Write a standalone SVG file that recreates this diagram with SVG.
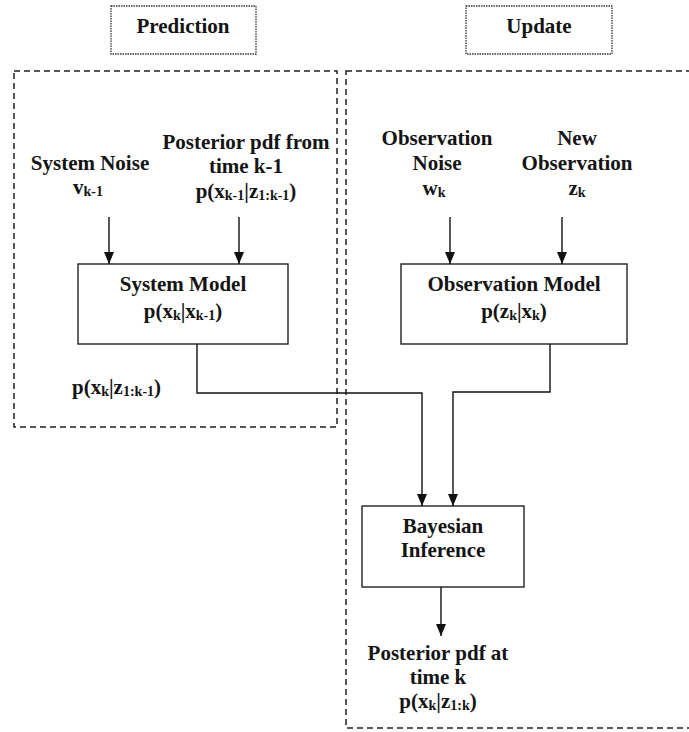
<svg xmlns="http://www.w3.org/2000/svg" width="689" height="732" viewBox="0 0 689 732">
  <style>
    .t { font-family: "Liberation Serif", "Times New Roman", serif; font-weight: bold; font-size: 21px; fill: #141414; text-anchor: middle; }
    .s { font-size: 14px; }
    .box { fill: #ffffff; stroke: #222222; stroke-width: 1.4; }
    .tag { fill: #ffffff; stroke: #333333; stroke-width: 1.3; stroke-dasharray: 1.5 1; }
    .region { fill: none; stroke: #222222; stroke-width: 1.5; stroke-dasharray: 6 4; }
    .wire { fill: none; stroke: #111111; stroke-width: 1.4; marker-end: url(#head); }
  </style>
  <defs>
    <marker id="head" markerUnits="userSpaceOnUse" markerWidth="10" markerHeight="12" refX="5" refY="12" orient="0" viewBox="0 0 10 12">
      <path d="M0,0 L10,0 L5,12 z" fill="#111111"/>
    </marker>
  </defs>
  <rect width="689" height="732" fill="#ffffff"/>

  <!-- section regions -->
  <g id="prediction-region">
    <rect class="region" x="14" y="71" width="323" height="356"/>
  </g>
  <g id="update-region">
    <rect class="region" x="346" y="71" width="380" height="657"/>
  </g>

  <!-- section titles -->
  <g id="prediction-title">
    <rect class="tag" x="111" y="6" width="145" height="48"/>
    <text class="t" x="183" y="33">Prediction</text>
  </g>
  <g id="update-title">
    <rect class="tag" x="466" y="6" width="146" height="48"/>
    <text class="t" x="539" y="33">Update</text>
  </g>

  <!-- inputs -->
  <g id="system-noise">
    <text class="t" x="90" y="170">System Noise</text>
    <text class="t" x="88" y="194">v<tspan class="s" dy="2">k-1</tspan></text>
  </g>
  <g id="prior-posterior">
    <text class="t" x="246" y="149">Posterior pdf from</text>
    <text class="t" x="246" y="173">time k-1</text>
    <text class="t" x="246" y="198">p(x<tspan class="s" dy="2">k-1</tspan><tspan dy="-2">|z</tspan><tspan class="s" dy="2">1:k-1</tspan><tspan dy="-2">)</tspan></text>
  </g>
  <g id="observation-noise">
    <text class="t" x="437" y="145">Observation</text>
    <text class="t" x="437" y="170">Noise</text>
    <text class="t" x="434" y="195">w<tspan class="s" dy="2">k</tspan></text>
  </g>
  <g id="new-observation">
    <text class="t" x="577" y="145">New</text>
    <text class="t" x="577" y="170">Observation</text>
    <text class="t" x="577" y="195">z<tspan class="s" dy="2">k</tspan></text>
  </g>

  <!-- models -->
  <g id="system-model">
    <rect class="box" x="78" y="264" width="210" height="80"/>
    <text class="t" x="183" y="291">System Model</text>
    <text class="t" x="183" y="318">p(x<tspan class="s" dy="2">k</tspan><tspan dy="-2">|x</tspan><tspan class="s" dy="2">k-1</tspan><tspan dy="-2">)</tspan></text>
  </g>
  <g id="observation-model">
    <rect class="box" x="401" y="264" width="226" height="80"/>
    <text class="t" x="514" y="291">Observation Model</text>
    <text class="t" x="514" y="318">p(z<tspan class="s" dy="2">k</tspan><tspan dy="-2">|x</tspan><tspan class="s" dy="2">k</tspan><tspan dy="-2">)</tspan></text>
  </g>

  <g id="predicted-density">
    <text class="t" x="72" y="394" style="text-anchor:start">p(x<tspan class="s" dy="2">k</tspan><tspan dy="-2">|z</tspan><tspan class="s" dy="2">1:k-1</tspan><tspan dy="-2">)</tspan></text>
  </g>

  <g id="bayesian-inference">
    <rect class="box" x="362" y="506" width="162" height="81"/>
    <text class="t" x="443" y="533">Bayesian</text>
    <text class="t" x="443" y="557">Inference</text>
  </g>

  <g id="posterior-output">
    <text class="t" x="438" y="660">Posterior pdf at</text>
    <text class="t" x="438" y="684">time k</text>
    <text class="t" x="438" y="708">p(x<tspan class="s" dy="2">k</tspan><tspan dy="-2">|z</tspan><tspan class="s" dy="2">1:k</tspan><tspan dy="-2">)</tspan></text>
  </g>

  <!-- connectors -->
  <g id="connectors">
    <path class="wire" d="M109,217 V264"/>
    <path class="wire" d="M239,217 V264"/>
    <path class="wire" d="M450,217 V264"/>
    <path class="wire" d="M562,217 V264"/>
    <path class="wire" d="M197,344 V393 H422 V506"/>
    <path class="wire" d="M550,344 V392 H453 V506"/>
    <path class="wire" d="M441,587 V636"/>
  </g>
</svg>
